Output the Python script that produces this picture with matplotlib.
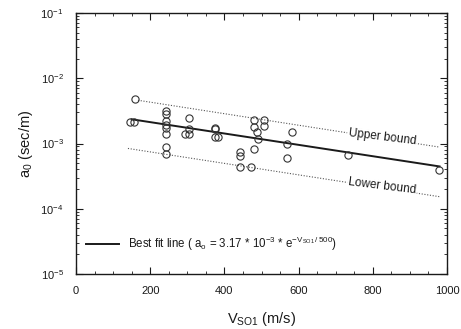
import matplotlib
matplotlib.use("Agg")
import matplotlib.pyplot as plt
from matplotlib.ticker import LogLocator, MultipleLocator
import numpy as np

plt.rcParams['font.family'] = ['Liberation Sans', 'DejaVu Sans']
plt.rcParams['mathtext.fontset'] = 'custom'
plt.rcParams['mathtext.rm'] = 'Liberation Sans'
plt.rcParams['mathtext.it'] = 'Liberation Sans'

# Observed data (V_SO1 in m/s, a0 in sec/m)
v_obs = [146, 156, 158,
         243, 243, 243, 243, 243, 243, 243, 243,
         305, 305, 305, 295,
         375, 375, 375, 383,
         442, 442, 442, 472,
         480, 480, 480, 489, 491, 508, 508,
         570, 570, 581, 734, 978]
a_obs = [2.1e-3, 2.1e-3, 4.8e-3,
         3.2e-3, 2.8e-3, 2.2e-3, 1.95e-3, 1.7e-3, 1.4e-3, 8.7e-4, 6.9e-4,
         2.48e-3, 1.68e-3, 1.39e-3, 1.39e-3,
         1.75e-3, 1.68e-3, 1.28e-3, 1.28e-3,
         7.3e-4, 6.5e-4, 4.3e-4, 4.3e-4,
         2.26e-3, 1.78e-3, 8.1e-4, 1.48e-3, 1.18e-3, 2.26e-3, 1.85e-3,
         1.0e-3, 6.1e-4, 1.48e-3, 6.6e-4, 3.9e-4]

# Best fit line endpoints
fit_v = [150, 980]
fit_a = [2.35e-3, 4.45e-4]
# Bound lines endpoints
upper_v = [167, 980]
upper_a = [4.6e-3, 8.8e-4]
lower_v = [140, 980]
lower_a = [8.4e-4, 1.53e-4]

ink = '#1a1a1a'

fig = plt.figure(figsize=(4.61, 3.29), dpi=100)
ax = fig.add_axes([76/461, 1 - 274/329, (447 - 76)/461, (274 - 13)/329])

ax.plot(upper_v, upper_a, linestyle=(0, (1, 1.5)), color='#555555', lw=0.8, zorder=1)
ax.plot(lower_v, lower_a, linestyle=(0, (1, 1.5)), color='#555555', lw=0.8, zorder=1)
ax.plot(fit_v, fit_a, color=ink, lw=1.4, zorder=2,
        label=r'Best fit line ( a$_o$ = 3.17 * 10$^{-3}$ * e$^{-V_{SO1}\,/\,500}$)')
ax.plot(v_obs, a_obs, linestyle='none', marker='o', markersize=5.2,
        markerfacecolor='none', markeredgecolor='#333333', markeredgewidth=0.8, zorder=3)

ax.text(825, 1.25e-3, 'Upper bound', fontsize=8.5, color=ink, rotation=-7,
        ha='center', va='center', zorder=4,
        bbox=dict(facecolor='white', edgecolor='none', pad=0.8))
ax.text(825, 2.2e-4, 'Lower bound', fontsize=8.5, color=ink, rotation=-7,
        ha='center', va='center', zorder=4,
        bbox=dict(facecolor='white', edgecolor='none', pad=0.8))

ax.set_yscale('log')
ax.set_xlim(0, 1000)
ax.set_ylim(1e-5, 1e-1)
ax.xaxis.set_major_locator(MultipleLocator(200))
ax.xaxis.set_minor_locator(MultipleLocator(50))
ax.yaxis.set_major_locator(LogLocator(base=10, numticks=10))
ax.yaxis.set_minor_locator(LogLocator(base=10, subs=np.arange(2, 10), numticks=20))
ax.tick_params(which='both', direction='in', top=True, right=True, colors=ink,
               labelsize=8)
ax.tick_params(which='major', length=5, width=0.8)
ax.tick_params(which='minor', length=2.5, width=0.6)
ax.tick_params(axis='x', pad=9)
ax.tick_params(axis='y', pad=9)
for s in ax.spines.values():
    s.set_color(ink)
    s.set_linewidth(1.0)

ax.set_xlabel(r'V$_{\mathrm{SO1}}$ (m/s)', fontsize=10.5, color=ink, labelpad=10)
ax.set_ylabel(r'a$_0$ (sec/m)', fontsize=10.5, color=ink, labelpad=4)

leg = ax.legend(loc='lower left', frameon=False, fontsize=8.3, handlelength=2.8,
                bbox_to_anchor=(0.0, 0.04), borderaxespad=0.5, labelcolor=ink)

fig.savefig('out.png', dpi=100)
